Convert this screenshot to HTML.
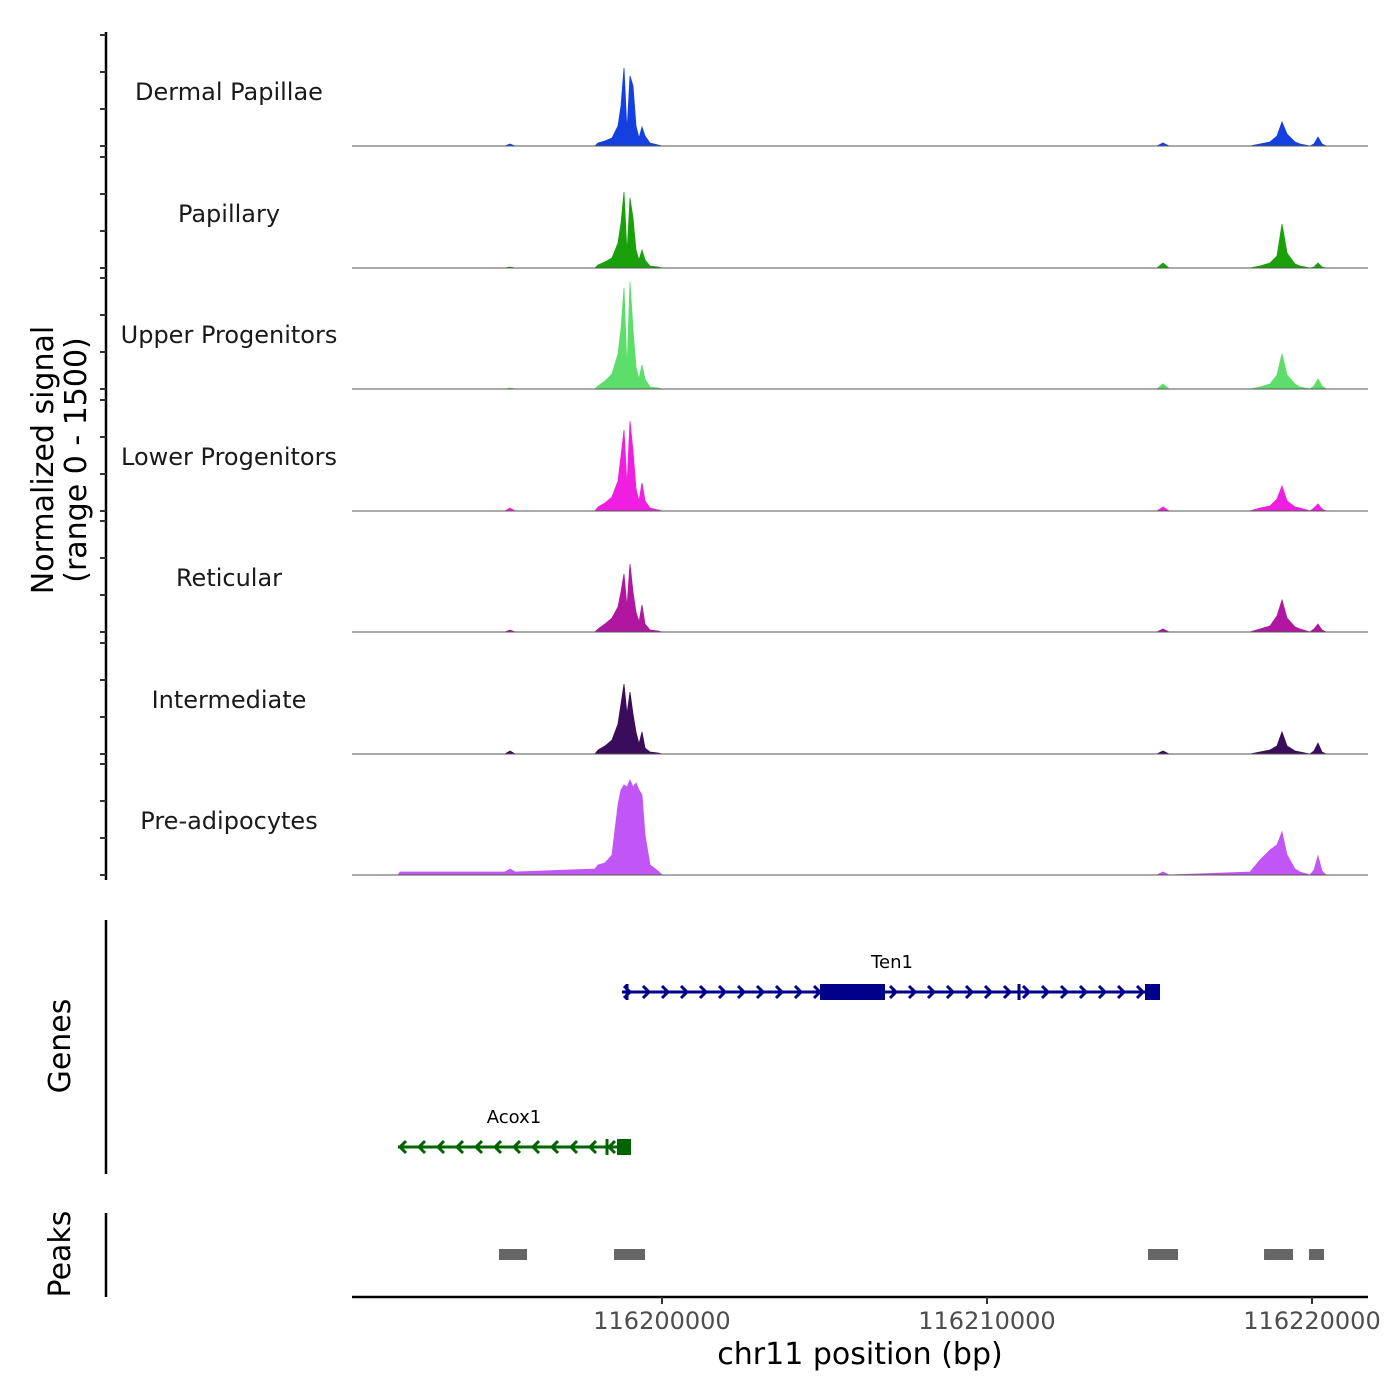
<!DOCTYPE html>
<html><head><meta charset="utf-8"><style>
body{margin:0;background:#fff}
svg{display:block;font-family:"DejaVu Sans","Liberation Sans",sans-serif}
</style></head><body>
<svg id="c" width="1400" height="1400" viewBox="0 0 1400 1400"></svg>
<script>
// ---- data ----
const regionStart = 116190462;
const regionEnd = 116221723;
const xTicks = [116200000, 116210000, 116220000];
const yMax = 1110;
const trackNames = ["Dermal Papillae","Papillary","Upper Progenitors","Lower Progenitors","Reticular","Intermediate","Pre-adipocytes"];
const trackColors = ["#1540e0","#1aa00a","#5ddd6a","#f01ee0","#b0169f","#3a0d5c","#c155f5"];
const binPositions = [116190462,116191877,116191939,116195170,116195324,116195478,116197939,116198031,116198247,116198462,116198647,116198739,116198831,116198924,116199016,116199108,116199200,116199293,116199385,116199477,116199631,116199877,116200000,116215232,116215416,116215600,116218093,116218400,116218708,116218924,116219077,116219231,116219477,116219631,116219939,116220062,116220185,116220308,116220431,116221723];
const sigDermalPapillae = [0,0,0,0,20,0,0,30,50,80,200,400,780,150,700,600,200,80,190,100,30,10,0,0,30,0,0,20,40,100,240,120,40,20,0,20,90,20,0,0];
const sigPapillary = [0,0,0,0,10,0,0,30,60,100,250,450,760,150,700,500,180,80,180,80,20,10,0,0,50,0,0,20,50,120,440,150,40,20,0,10,50,10,0,0];
const sigUpperProg = [0,0,0,0,10,0,0,30,80,150,350,600,1010,200,1070,600,220,100,240,100,20,10,0,0,50,0,0,20,50,140,350,140,50,20,0,30,100,30,0,0];
const sigLowerProg = [0,0,0,0,30,0,0,40,80,140,300,550,810,250,900,600,220,100,280,100,30,10,0,0,40,0,0,30,50,120,250,100,40,30,0,30,70,20,0,0];
const sigReticular = [0,0,0,0,20,0,0,30,80,140,250,400,580,250,680,400,200,100,270,80,20,10,0,0,30,0,0,30,60,160,320,140,50,30,0,30,80,20,0,0];
const sigIntermediate = [0,0,0,0,30,0,0,40,80,140,300,500,700,400,620,400,220,100,220,60,20,10,0,0,30,0,0,20,40,80,220,80,30,20,0,30,110,20,0,0];
const sigPreAdipocytes = [0,0,30,30,60,30,60,100,120,200,700,850,900,880,950,880,920,850,800,400,100,40,0,0,30,0,30,150,250,300,430,200,60,30,0,50,190,40,0,0];
const trackSignals = [sigDermalPapillae,sigPapillary,sigUpperProg,sigLowerProg,sigReticular,sigIntermediate,sigPreAdipocytes];
const peakStarts = [116194985,116198524,116214954,116218524,116219908];
const peakEnds = [116195847,116199477,116215877,116219416,116220370];

// ---- scales ----
const svg = document.getElementById('c');
const NS = 'http://www.w3.org/2000/svg';
const X0 = 352, X1 = 1368;
const sx = bp => X0 + (bp - regionStart) / (regionEnd - regionStart) * (X1 - X0);
const trackBottoms = [146,268,389,511,632,754,875];
const trackH = 111;
function el(tag, attrs, parent){const e=document.createElementNS(NS,tag);for(const k in attrs)e.setAttribute(k,attrs[k]);(parent||svg).appendChild(e);return e;}

// left axes
const ax1 = el('line',{x1:106,y1:32,x2:106,y2:880,stroke:'#000','stroke-width':2.5});


trackBottoms.forEach(b=>{
  [0,37,74,111].forEach(d=>{
    const t = el('line',{x1:100,y1:b-d,x2:106,y2:b-d,stroke:'#333','stroke-width':2});
    
    
  });
});

// tracks
trackNames.forEach((name,i)=>{
  const b = trackBottoms[i];
  const sy = v => b - v / yMax * trackH;
  const g = el('g',{});
  
  
  const sig = trackSignals[i];
  let d = 'M'+sx(binPositions[0])+','+b;
  binPositions.forEach((p,j)=>{ d += ' L'+sx(p).toFixed(1)+','+sy(sig[j]).toFixed(1); });
  d += ' L'+sx(binPositions[binPositions.length-1])+','+b+' Z';
  const a = el('path',{d:d,fill:trackColors[i],stroke:trackColors[i],'stroke-width':0.8},g);
  
  
  const bl = el('line',{x1:X0,y1:b,x2:X1,y2:b,stroke:'#555','stroke-width':1},g);
  
  
  const t = el('text',{x:229,y:b-46,'text-anchor':'middle','font-size':24,fill:'#1a1a1a'},g);
  t.textContent = name;
  
  
});

// y title
const yt = el('text',{transform:'translate(53,460) rotate(-90)','text-anchor':'middle','font-size':30,fill:'#000'});


const ts1 = el('tspan',{x:0,dy:0},yt); ts1.textContent='Normalized signal';
const ts2 = el('tspan',{x:0,dy:33},yt); ts2.textContent='(range 0 - 1500)';

// genes panel
const ax2 = el('line',{x1:106,y1:920,x2:106,y2:1174,stroke:'#000','stroke-width':2.5});


const gt = el('text',{transform:'translate(70,1046) rotate(-90)','text-anchor':'middle','font-size':30});
gt.textContent='Genes';



function gene(name,x1,x2,y,color,dir,exons,ticks,labelX){
  const g = el('g',{});
  
  
  el('line',{x1:x1,y1:y,x2:x2,y2:y,stroke:color,'stroke-width':3},g);
  for(let x=x1+2;x<x2-6;x+=19){
    const p = dir>0 ? `M${x},${y-6} L${x+6},${y} L${x},${y+6}` : `M${x+6},${y-6} L${x},${y} L${x+6},${y+6}`;
    el('path',{d:p,fill:'none',stroke:color,'stroke-width':3},g);
  }
  exons.forEach(e=>el('rect',{x:e[0],y:y-8,width:e[1]-e[0],height:16,fill:color},g));
  ticks.forEach(x=>el('rect',{x:x-1.5,y:y-8,width:3,height:16,fill:color},g));
  const t = el('text',{x:labelX,y:y-24,'text-anchor':'middle','font-size':18,fill:'#000'},g);
  t.textContent=name;
  
  
}
gene('Ten1',622,1160,992,'#00008b',1,[[820,885],[1145,1160]],[627,1019],892);
gene('Acox1',398,631,1147,'#006400',-1,[[617,631]],[607],514);

// peaks
const ax3 = el('line',{x1:106,y1:1213,x2:106,y2:1297,stroke:'#000','stroke-width':2.5});


const pt = el('text',{transform:'translate(70,1254) rotate(-90)','text-anchor':'middle','font-size':30});
pt.textContent='Peaks';


peakStarts.forEach((s,i)=>{
  const r = el('rect',{x:sx(s),y:1249,width:sx(peakEnds[i])-sx(s),height:11,fill:'#666'});
  
  
});

// x axis
const xa = el('line',{x1:X0,y1:1297,x2:X1,y2:1297,stroke:'#000','stroke-width':2.5});


xTicks.forEach(v=>{
  const x = sx(v);
  const tk = el('line',{x1:x,y1:1297,x2:x,y2:1304,stroke:'#333','stroke-width':2});
  
  
  const t = el('text',{x:x,y:1329,'text-anchor':'middle','font-size':24,fill:'#4d4d4d'});
  t.textContent = v;
  
  
});
const xt = el('text',{x:860,y:1364,'text-anchor':'middle','font-size':30,fill:'#000'});
xt.textContent='chr11 position (bp)';


</script>
</body></html>
